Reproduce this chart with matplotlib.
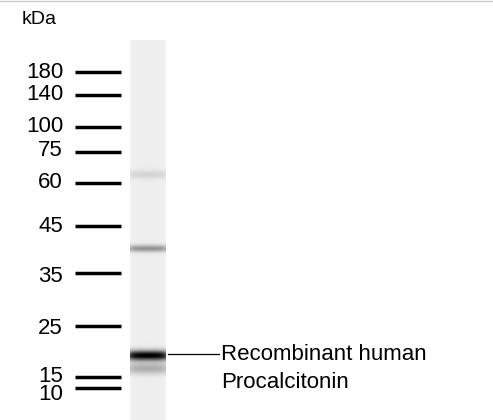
import numpy as np
import matplotlib.pyplot as plt

plt.rcParams['font.family'] = ['Liberation Sans', 'DejaVu Sans']

# marker ladder (kDa) and their vertical positions in the image (px)
marker_kda = ['180', '140', '100', '75', '60', '45', '35', '25', '15', '10']
label_y = [72, 95, 126, 151, 183, 226, 276, 329, 377, 394]
line_y = [72, 95, 127, 152, 183, 226, 273, 326, 377, 388]

# bands in the sample lane: centre y (px), intensity, half-height (px)
band_y = [174, 248, 355, 368]
band_strength = [0.10, 0.35, 0.95, 0.25]
band_width = [3, 2.5, 3.5, 4]

fig = plt.figure(figsize=(4.93, 4.20), dpi=100)
ax = fig.add_axes([0, 0, 1, 1])
ax.set_xlim(0, 493)
ax.set_ylim(420, 0)
ax.axis('off')

# lane image
ys = np.arange(40, 420)
lane = np.full(ys.shape, 0.07)
for c, s, w in zip(band_y, band_strength, band_width):
    lane += s * np.exp(-0.5 * ((ys - c) / w) ** 2)
lane = np.clip(lane, 0, 1)
img = np.tile(lane[:, None], (1, 36))
xs = np.linspace(-1, 1, 36)
img = img * (1 - 0.25 * xs[None, :] ** 4)
ax.imshow(1 - img, cmap='gray', vmin=0, vmax=1, extent=[130, 166, 420, 40],
          aspect='auto', interpolation='bilinear')

ax.text(22, 20, 'kDa', fontsize=14, va='center', ha='left')
for lab, y in zip(marker_kda, label_y):
    ax.text(63, y, lab, fontsize=16, va='center', ha='right')
for y in line_y:
    ax.plot([75, 121], [y, y], color='black', lw=2.5, solid_capstyle='butt')

ax.plot([168, 219], [354, 354], color='black', lw=0.9)
ax.text(221, 354, 'Recombinant human', fontsize=16, va='center', ha='left')
ax.text(221, 383, 'Procalcitonin', fontsize=16, va='center', ha='left')

ax.plot([0, 493], [1, 1], color='#cccccc', lw=1)

fig.savefig('out.png', dpi=100)
